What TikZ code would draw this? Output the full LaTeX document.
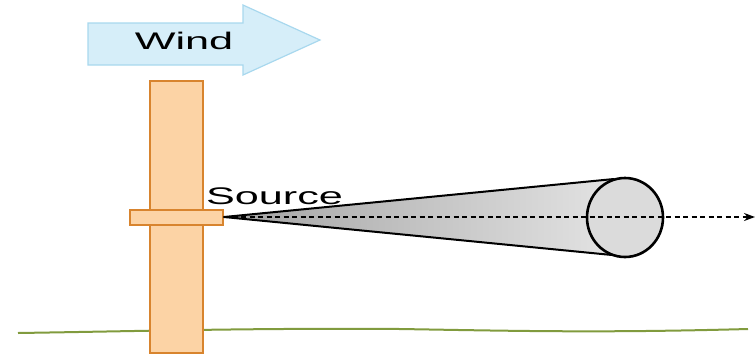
\documentclass[tikz,border=0pt]{standalone}
\usepackage{fontspec}
\setmainfont{Liberation Sans}
\usetikzlibrary{arrows.meta,shapes.geometric}
\definecolor{windfill}{HTML}{D6EEF9}
\definecolor{winddraw}{HTML}{A8D8EE}
\definecolor{polefill}{HTML}{FCD3A5}
\definecolor{poledraw}{HTML}{D8842E}
\definecolor{groundc}{HTML}{819B3E}
\tikzset{
  polebox/.style={draw=poledraw, fill=polefill, line width=2pt, rectangle, inner sep=0pt},
  lbl/.style={font=\fontsize{24}{24}\selectfont, xscale=1.8, inner sep=0pt, anchor=base},
  edge/.style={line width=2pt, black},
}
\begin{document}
\begin{tikzpicture}[x=1pt,y=-1pt]
\useasboundingbox (0,0) rectangle (756,357);
% ground
\draw[groundc, line width=2pt] (18,333) .. controls (150,331) and (250,328) .. (400,329)
  .. controls (520,331) and (600,333) .. (748,329);
% wind arrow
\draw[draw=winddraw, fill=windfill, line width=1.2pt]
  (88,23) -- (243,23) -- (243,5) -- (320,40) -- (243,75) -- (243,65) -- (88,65) -- cycle;
\node[lbl] (wind) at (184,49) {Wind};
% pole
\node[polebox, minimum width=53pt, minimum height=272pt] (pole) at (176,217) {};
\node[polebox, minimum width=93pt, minimum height=15pt] (collar) at (176,217.5) {};
\coordinate (apex) at (224,217);
\coordinate (top) at (614,179);
\coordinate (bot) at (612,255);
\coordinate (endc) at (625,217.5);
% cone
\shade[left color=black!36, right color=black!11] (apex) -- (top) -- (bot) -- cycle;
\draw[edge, line join=round] (top) -- (apex) -- (bot);
\node[draw=black, line width=2.6pt, fill=black!14, ellipse, minimum width=76pt, minimum height=79pt, inner sep=0pt] (disk) at (endc) {};
\node[lbl] (src) at (274.5,204) {Source};
\coordinate (tip) at (755,217);
\draw[black, line width=2.6pt, dash pattern=on 5pt off 3.5pt, -{Stealth[length=11pt,width=8pt]}] (apex) -- (tip);
\end{tikzpicture}
\end{document}
